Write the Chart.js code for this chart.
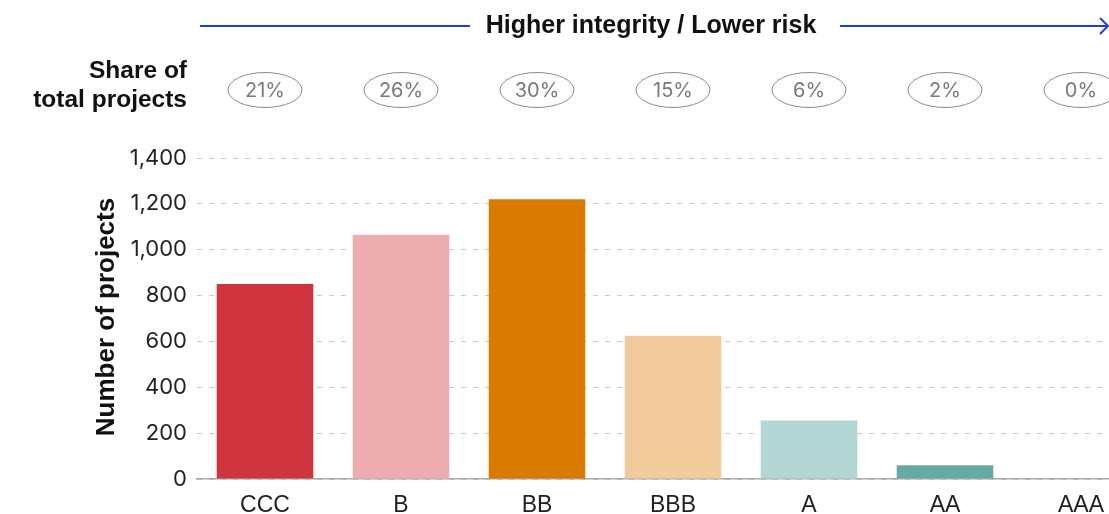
<!DOCTYPE html>
<html>
<head>
<meta charset="utf-8">
<script src="https://cdn.jsdelivr.net/npm/chart.js@4.4.1/dist/chart.umd.min.js"></script>
<style>
  html, body { margin: 0; padding: 0; background: #fff; overflow: hidden; width: 1109px; height: 514px; }
  #wrap { position: absolute; left: 0; top: 0; width: 1150px; height: 530px; }
</style>
</head>
<body>
<div id="wrap"><canvas id="c" width="1150" height="530"></canvas></div>
<script>
const categories = ['CCC', 'B', 'BB', 'BBB', 'A', 'AA', 'AAA'];
const projectCounts = [850, 1065, 1220, 625, 255, 60, 0];
const shareLabels = ['21%', '26%', '30%', '15%', '6%', '2%', '0%'];
const barColors = ['#d0343c', '#ecacb0', '#d97b00', '#f1cb9b', '#b2d6d3', '#66aba2', '#3f8a80'];
const yTicks = [0, 200, 400, 600, 800, 1000, 1200, 1400];
const headerText = 'Higher integrity / Lower risk';
const shareTitle = ['Share of', 'total projects'];
const yTitle = 'Number of projects';

const BOLD = '"Liberation Sans", Arial, sans-serif';
const FONT = 'Inter, "Noto Sans", sans-serif';

const headerPlugin = {
  id: 'header',
  afterDraw(chart) {
    const ctx = chart.ctx;
    const x = chart.scales.x;
    const area = chart.chartArea;
    ctx.save();
    // top arrow with text
    const lineY = 26;
    ctx.font = 'bold 25px ' + BOLD;
    ctx.fillStyle = '#111';
    ctx.textAlign = 'center';
    ctx.textBaseline = 'alphabetic';
    ctx.fillText(headerText, 651, 33);
    ctx.strokeStyle = '#1f3fe0';
    ctx.lineWidth = 2;
    ctx.beginPath();
    ctx.moveTo(area.left + 3, lineY);
    ctx.lineTo(470, lineY);
    ctx.moveTo(840, lineY);
    ctx.lineTo(1108, lineY);
    ctx.stroke();
    ctx.beginPath();
    ctx.moveTo(1100, lineY - 8);
    ctx.lineTo(1108, lineY);
    ctx.lineTo(1100, lineY + 8);
    ctx.stroke();

    // share title
    ctx.font = 'bold 24.5px ' + BOLD;
    ctx.textAlign = 'right';
    ctx.fillStyle = '#111';
    ctx.fillText(shareTitle[0], 187, 78);
    ctx.fillText(shareTitle[1], 187, 107);

    // pills
    const pillY = 90;
    categories.forEach((c, i) => {
      const px = x.getPixelForValue(i);
      ctx.beginPath();
      ctx.ellipse(px, pillY, 37, 17.5, 0, 0, Math.PI * 2);
      ctx.strokeStyle = '#8a8a8a';
      ctx.lineWidth = 1;
      ctx.stroke();
      ctx.font = '20px ' + FONT;
      ctx.fillStyle = '#7a7a7a';
      ctx.textAlign = 'center';
      ctx.textBaseline = 'middle';
      ctx.fillText(shareLabels[i], px, pillY + 1);
    });

    // y axis title
    ctx.translate(114, 317);
    ctx.rotate(-Math.PI / 2);
    ctx.font = 'bold 26px ' + BOLD;
    ctx.fillStyle = '#111';
    ctx.textAlign = 'center';
    ctx.textBaseline = 'alphabetic';
    ctx.fillText(yTitle, 0, 0);
    ctx.restore();
  }
};

new Chart(document.getElementById('c'), {
  type: 'bar',
  data: {
    labels: categories,
    datasets: [{
      data: projectCounts,
      backgroundColor: barColors,
      borderWidth: 0,
      categoryPercentage: 1,
      barPercentage: 0.71
    }]
  },
  options: {
    responsive: false,
    animation: false,
    devicePixelRatio: 1,
    layout: { padding: { top: 158, left: 0, right: 1, bottom: 0 } },
    plugins: { legend: { display: false }, tooltip: { enabled: false } },
    scales: {
      y: {
        min: 0, max: 1400,
        afterFit(s) { s.width = 197; },
        afterBuildTicks(s) { s.ticks = yTicks.map(v => ({ value: v })); },
        ticks: {
          padding: 10,
          color: '#222',
          font: { family: FONT, size: 22 },
          callback: v => v.toLocaleString('en-US')
        },
        grid: { color: '#c8c8c8', lineWidth: 1, drawTicks: false },
        border: { display: false, dash: [5, 7] }
      },
      x: {
        afterFit(s) { s.height = 51; },
        ticks: {
          padding: 13,
          color: '#222',
          font: { family: BOLD, size: 23 }
        },
        grid: { display: false, drawTicks: false },
        border: { display: true, color: '#aaaaaa', width: 1.5 }
      }
    }
  },
  plugins: [headerPlugin]
});
</script>
</body>
</html>
